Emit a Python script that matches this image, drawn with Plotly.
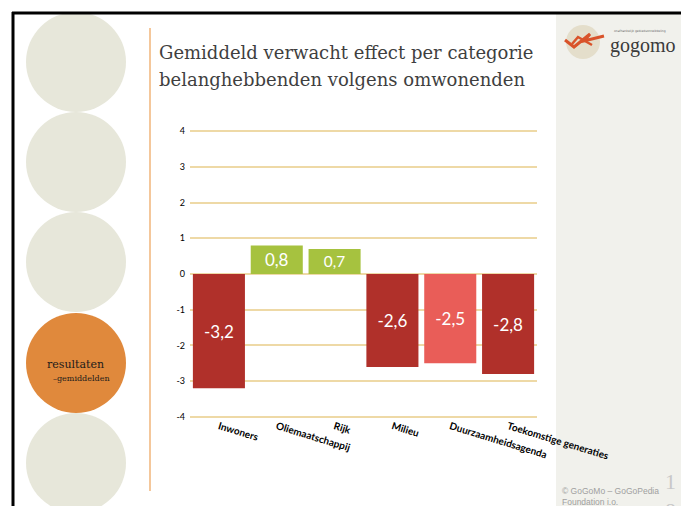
import plotly.graph_objects as go

categories = ["Inwoners", "Oliemaatschappij", "Rijk", "Milieu", "Duurzaamheidsagenda", "Toekomstige generaties"]
values = [-3.2, 0.8, 0.7, -2.6, -2.5, -2.8]
bar_colors = ["#B0302A", "#A6C23F", "#A6C23F", "#B0302A", "#E95D58", "#B0302A"]
y_ticks = [4, 3, 2, 1, 0, -1, -2, -3, -4]
title_lines = ["Gemiddeld verwacht effect per categorie", "belanghebbenden volgens omwonenden"]

# page body has an 8px margin; lay out in window pixels and shift
OFF = 8
W, H = 689 - OFF, 506 - OFF
L = 190 - OFF
T = 130 - OFF
R = W - (537 - OFF)
B = H - (418 - OFF)
PW, PH = W - L - R, H - T - B


def px(x):
    return (x - OFF - L) / PW


def py(y):
    return (H - B - (y - OFF)) / PH


labels = [f"{v:.1f}".replace(".", ",") for v in values]

fig = go.Figure()
fig.add_trace(go.Bar(
    x=categories, y=values,
    marker=dict(color=bar_colors, line=dict(width=0)),
    text=labels, textposition="inside", insidetextanchor="middle",
    textfont=dict(color="white", size=17, family="Lato"),
    cliponaxis=False,
))

shapes = []
# right panel
shapes.append(dict(type="rect", xref="paper", yref="paper", x0=px(556), x1=px(683), y0=py(14), y1=py(520),
                   fillcolor="#F1F1EC", line=dict(width=0), layer="below"))
# left circles
circ_centers = [62, 162, 262, 363, 463]
for i, cy in enumerate(circ_centers):
    col = "#E0893C" if i == 3 else "#E7E7DA"
    shapes.append(dict(type="circle", xref="paper", yref="paper", x0=px(26), x1=px(126),
                       y0=py(cy + 50), y1=py(cy - 50), fillcolor=col, line=dict(width=0), layer="below"))
# white mask above frame top
shapes.append(dict(type="rect", xref="paper", yref="paper", x0=px(0), x1=px(689), y0=py(0), y1=py(12),
                   fillcolor="white", line=dict(width=0), layer="below"))
# vertical orange line
shapes.append(dict(type="line", xref="paper", yref="paper", x0=px(150), x1=px(150), y0=py(28), y1=py(491),
                   line=dict(color="#F0B47A", width=1.5)))
# frame
shapes.append(dict(type="line", xref="paper", yref="paper", x0=px(12), x1=px(685), y0=py(13), y1=py(13),
                   line=dict(color="black", width=3)))
shapes.append(dict(type="line", xref="paper", yref="paper", x0=px(13), x1=px(13), y0=py(12), y1=py(510),
                   line=dict(color="black", width=3)))
shapes.append(dict(type="line", xref="paper", yref="paper", x0=px(683), x1=px(683), y0=py(12), y1=py(510),
                   line=dict(color="black", width=3)))
# logo
shapes.append(dict(type="circle", xref="paper", yref="paper", x0=px(566), x1=px(600), y0=py(59), y1=py(25),
                   fillcolor="#E4DECB", line=dict(width=0), layer="below"))
shapes.append(dict(type="path", xref="paper", yref="paper",
                   path=f"M {px(565)},{py(40)} L {px(574)},{py(47)} L {px(590)},{py(34)} L {px(584)},{py(41)} L {px(604)},{py(36)}",
                   line=dict(color="#D9532A", width=3)))
shapes.append(dict(type="path", xref="paper", yref="paper",
                   path=f"M {px(572)},{py(44)} L {px(578)},{py(37)} L {px(592)},{py(45)}",
                   line=dict(color="#D9532A", width=2.5)))

annotations = []
for i, t in enumerate(title_lines):
    annotations.append(dict(text=t, xref="paper", yref="paper", x=px(157), y=py(52 + 27 * i),
                            xanchor="left", yanchor="middle", showarrow=False,
                            font=dict(family="DejaVu Serif", size=18, color="#3F3F3F")))
annotations.append(dict(text="gogomo", xref="paper", yref="paper", x=px(608), y=py(45), xanchor="left",
                        yanchor="middle", showarrow=False,
                        font=dict(family="Liberation Serif", size=20, color="#3A3A3A")))
annotations.append(dict(text="onafhankelijk gebiedsontwikkeling", xref="paper", yref="paper", x=px(612), y=py(31),
                        xanchor="left", yanchor="middle", showarrow=False,
                        font=dict(family="DejaVu Sans", size=3, color="#666666")))
annotations.append(dict(text="resultaten", xref="paper", yref="paper", x=px(75), y=py(364),
                        xanchor="center", yanchor="middle", showarrow=False,
                        font=dict(family="DejaVu Serif", size=11, color="#1A1A1A")))
annotations.append(dict(text="\u2013gemiddelden", xref="paper", yref="paper", x=px(81), y=py(378),
                        xanchor="center", yanchor="middle", showarrow=False,
                        font=dict(family="DejaVu Serif", size=8, color="#1A1A1A")))
annotations.append(dict(text="\u00a9 GoGoMo \u2013 GoGoPedia<br>Foundation i.o.", xref="paper", yref="paper",
                        x=px(560), y=py(484), xanchor="left", yanchor="top", showarrow=False, align="left",
                        font=dict(family="Liberation Sans", size=8.5, color="#A0A0A0")))
annotations.append(dict(text="1<br>8", xref="paper", yref="paper", x=px(670), y=py(467), xanchor="center",
                        yanchor="top", showarrow=False,
                        font=dict(family="Liberation Serif", size=22, color="#C8C8C8")))

fig.update_layout(
    width=W, height=H, autosize=False,
    margin=dict(l=L, r=R, t=T, b=B, pad=0),
    paper_bgcolor="white", plot_bgcolor="rgba(0,0,0,0)",
    showlegend=False, bargap=0.1,
    shapes=shapes, annotations=annotations,
    font=dict(family="Lato", color="black"),
)
fig.update_yaxes(range=[-4.03, 4.03], tickvals=y_ticks, ticktext=[str(v) for v in y_ticks],
                 showgrid=True, gridcolor="#EED9A6", gridwidth=2, zeroline=True, zerolinecolor="#EED9A6",
                 zerolinewidth=2, showline=False, ticks="", tickfont=dict(size=9, family="Lato", color="black"),
                 ticklabelstandoff=4)
fig.update_xaxes(showgrid=False, showline=False, ticks="", tickangle=17,
                 tickfont=dict(size=10, family="Lato", color="black", weight="bold"))

fig.write_html("out.html")
